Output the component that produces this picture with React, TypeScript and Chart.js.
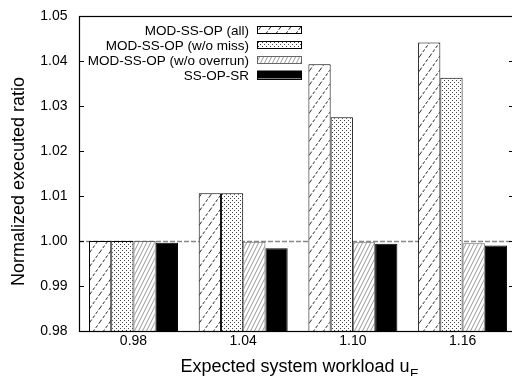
import React, { useEffect, useRef } from "react";
import { Chart, registerables } from "chart.js";

Chart.register(...registerables);

const xLabels = ["0.98", "1.04", "1.10", "1.16"];
const seriesNames = [
  "MOD-SS-OP (all)",
  "MOD-SS-OP (w/o miss)",
  "MOD-SS-OP (w/o overrun)",
  "SS-OP-SR",
];
const allValues = [1.0, 1.0106, 1.0393, 1.0441];
const missValues = [1.0, 1.0106, 1.0275, 1.0363];
const overrunValues = [1.0, 0.99985, 0.9997, 0.9995];
const srValues = [0.99963, 0.99838, 0.9994, 0.999];
const yTicks = [0.98, 0.99, 1.0, 1.01, 1.02, 1.03, 1.04, 1.05];
const refLine = 1.0;

const FONT = "'Liberation Sans', Arial, Helvetica, sans-serif";

function makeTile(w: number, h: number, draw: (c: CanvasRenderingContext2D) => void) {
  const cv = document.createElement("canvas");
  cv.width = w;
  cv.height = h;
  const c = cv.getContext("2d")!;
  c.fillStyle = "#fff";
  c.fillRect(0, 0, w, h);
  draw(c);
  return c.createPattern(cv, "repeat")!;
}

export default function App() {
  const ref = useRef<HTMLCanvasElement>(null);
  useEffect(() => {
    document.body.style.margin = "0";
    const ctx = ref.current!.getContext("2d")!;

    const diagSparse = makeTile(10, 14, (c) => {
      c.strokeStyle = "#222";
      c.lineWidth = 1;
      c.setLineDash([3, 2]);
      for (const dx of [-10, 0, 10]) {
        c.beginPath();
        c.moveTo(dx, 14);
        c.lineTo(dx + 10, 0);
        c.stroke();
      }
    });
    const dots = makeTile(4, 4, (c) => {
      c.fillStyle = "#444";
      c.fillRect(0, 0, 1, 1);
      c.fillRect(2, 2, 1, 1);
    });
    const diagFine = makeTile(4, 8, (c) => {
      c.strokeStyle = "#999";
      c.lineWidth = 1;
      for (const dx of [-4, 0, 4]) {
        c.beginPath();
        c.moveTo(dx, 8);
        c.lineTo(dx + 4, 0);
        c.stroke();
      }
    });
    const fills: any[] = [diagSparse, dots, diagFine, "#000"];
    const borders = ["#000", "#000", "#666", "#000"];
    const values = [allValues, missValues, overrunValues, srValues];

    const framePlugin = {
      id: "frame",
      beforeDatasetsDraw(chart: any) {
        const { ctx: c, chartArea: a, scales } = chart;
        const y = Math.round(scales.y.getPixelForValue(refLine)) + 0.5;
        c.save();
        c.strokeStyle = "#888";
        c.lineWidth = 1.5;
        c.setLineDash([5, 2]);
        c.beginPath();
        c.moveTo(a.left, y);
        c.lineTo(a.right, y);
        c.stroke();
        c.restore();
      },
      afterDatasetsDraw(chart: any) {
        const { ctx: c, chartArea: a, scales } = chart;
        c.save();
        c.strokeStyle = "#000";
        c.lineWidth = 1;
        for (const t of yTicks) {
          const y = Math.round(scales.y.getPixelForValue(t)) + 0.5;
          c.beginPath();
          c.moveTo(a.left, y);
          c.lineTo(a.left + 5, y);
          c.moveTo(a.right, y);
          c.lineTo(a.right - 5, y);
          c.stroke();
        }
        c.lineWidth = 1.2;
        c.strokeRect(Math.round(a.left) + 0.5, Math.round(a.top) + 0.5, a.right - a.left, a.bottom - a.top);

        // legend
        c.font = `13.5px ${FONT}`;
        c.textAlign = "right";
        c.textBaseline = "middle";
        const rows = [29.5, 44.5, 59.5, 74.5];
        seriesNames.forEach((name, i) => {
          const cy = rows[i];
          c.fillStyle = "#000";
          c.fillText(name, 249, cy + 1.5);
          const h = i === 3 ? 8 : 7;
          c.fillStyle = fills[i];
          c.fillRect(257, cy - h / 2, 45, h);
          c.strokeStyle = borders[i];
          c.lineWidth = 1;
          c.strokeRect(257.5, Math.round(cy - h / 2) + 0.5, 44, h);
        });

        // axis titles
        c.fillStyle = "#000";
        c.font = `18px ${FONT}`;
        c.save();
        c.translate(24, 181.5);
        c.rotate(-Math.PI / 2);
        c.textAlign = "center";
        c.textBaseline = "alphabetic";
        c.fillText("Normalized executed ratio", 0, 0);
        c.restore();

        const main = "Expected system workload u";
        c.textAlign = "left";
        c.textBaseline = "alphabetic";
        const mw = c.measureText(main).width;
        const x0 = 295 - mw / 2;
        c.fillText(main, x0, 372);
        c.font = `13px ${FONT}`;
        c.fillText("E", x0 + mw + 0.5, 378);
        c.restore();
      },
    };

    const chart = new Chart(ctx, {
      type: "bar",
      data: {
        datasets: values.map((vals, k) => ({
          label: seriesNames[k],
          data: vals.map((v, i) => ({ x: i, y: v })),
          backgroundColor: fills[k],
          borderColor: borders[k],
          borderWidth: 1,
          categoryPercentage: 0.811,
          barPercentage: 1,
        })),
      },
      options: {
        responsive: false,
        animation: false,
        layout: { padding: { top: 16, right: 2, left: 0, bottom: 0 } },
        plugins: { legend: { display: false }, tooltip: { enabled: false } },
        scales: {
          x: {
            type: "linear",
            min: -0.4968,
            max: 3.4686,
            offset: false,
            grid: { display: false, drawTicks: false },
            border: { display: false },
            afterBuildTicks: (s: any) => {
              s.ticks = xLabels.map((_, i) => ({ value: i }));
            },
            afterFit: (s: any) => {
              s.height = 45;
              s.paddingLeft = 0;
              s.paddingRight = 0;
            },
            ticks: {
              autoSkip: false,
              maxRotation: 0,
              padding: 2,
              color: "#000",
              font: { family: FONT, size: 14 },
              callback: (v: any) => xLabels[Math.round(v)] ?? "",
            },
          },
          y: {
            min: 0.98,
            max: 1.05,
            grid: { display: false, drawTicks: false },
            border: { display: false },
            afterBuildTicks: (s: any) => {
              s.ticks = yTicks.map((v) => ({ value: v }));
            },
            afterFit: (s: any) => {
              s.width = 79;
              s.paddingTop = 0;
              s.paddingBottom = 0;
            },
            ticks: {
              padding: 11.5,
              color: "#000",
              font: { family: FONT, size: 14 },
              callback: (v: any) => Number(v).toFixed(2),
            },
          },
        },
      },
      plugins: [framePlugin],
    });
    return () => chart.destroy();
  }, []);

  return (
    <div style={{ width: 512, height: 376, overflow: "hidden", background: "#fff" }}>
      <canvas ref={ref} width={516} height={376} style={{ display: "block" }} />
    </div>
  );
}
